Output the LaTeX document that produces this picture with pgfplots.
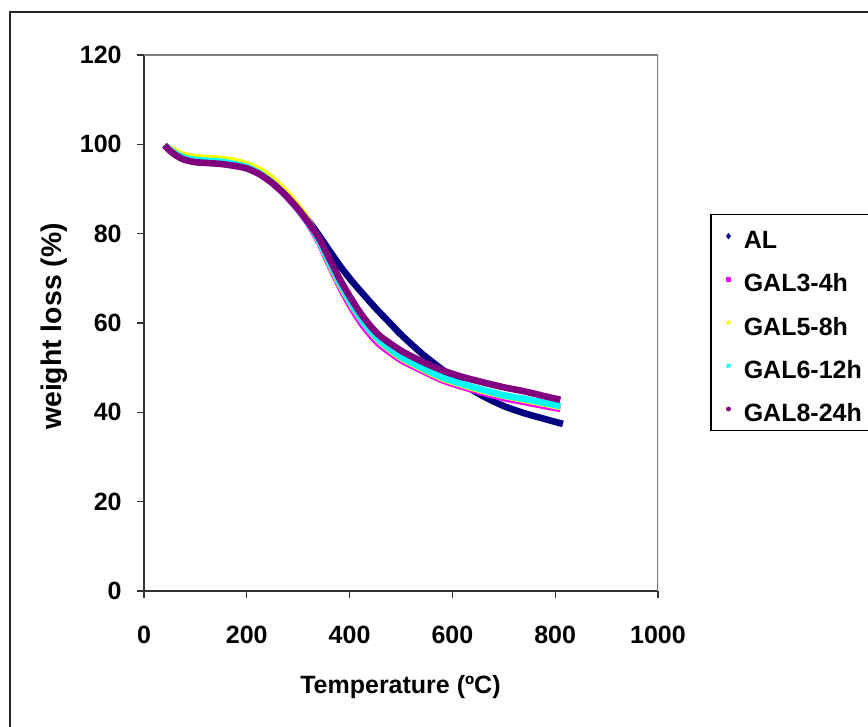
\documentclass[border=0pt]{standalone}
\usepackage{pgfplots}
\pgfplotsset{compat=1.18}
\usepackage{fontspec}
\setmainfont{Liberation Sans}

\definecolor{alblue}{RGB}{0,0,128}
\definecolor{galmag}{RGB}{255,0,255}
\definecolor{galyel}{RGB}{255,255,0}
\definecolor{galcya}{RGB}{0,255,255}
\definecolor{galpur}{RGB}{128,0,128}

\newcommand{\chartfont}{\fontsize{12.5}{15}\selectfont\bfseries}
\newcommand{\ylabfont}{\fontsize{14.2}{17}\selectfont\bfseries}
\newcommand{\legstrut}{\rule{0pt}{14pt}}
% legend marker, shifted down a little so that it sits at the middle of the capitals
\newcommand{\legmark}[4]{\draw[#1, line width=#3, mark=#2, mark size=#4, only marks] plot coordinates {(0pt,0pt)}; \path (-1.6pt,-1.6pt) (5pt,6.6pt);}

\begin{document}
\begin{tikzpicture}
\useasboundingbox (-72pt,-68pt) rectangle (362pt,295.5pt);
% outer chart area frame (right and bottom edges fall outside the page)
\draw[line width=0.75pt, black!85] (-67pt,-90pt) -- (-67pt,289.5pt) -- (390pt,289.5pt);
\begin{axis}[
    scale only axis,
    width=257pt, height=268pt,
    xmin=0, xmax=1000, ymin=0, ymax=120,
    xtick={0,200,...,1000},
    ytick={0,20,...,120},
    axis x line*=bottom, axis y line*=left,
    axis line style={line width=0.75pt, black!80},
    tick align=outside,
    major tick length=3.5pt,
    tick style={line width=0.6pt, black!80},
    ticklabel style={font=\chartfont},
    /pgf/number format/assume math mode=true,
    /pgf/number format/1000 sep={},
    xticklabel style={anchor=north, inner sep=0pt, yshift=-14pt},
    yticklabel style={anchor=east, inner sep=0pt, xshift=-7.5pt},
    xlabel={Temperature (ºC)},
    ylabel={weight loss (\%)},
    xlabel style={font=\chartfont, at={(axis description cs:0.499,-0.180)}, anchor=center},
    ylabel style={font=\ylabfont, at={(axis description cs:-0.175,0.4935)}, anchor=center},
    legend style={
        at={(axis description cs:1.1012,0.7034)}, anchor=north west,
        draw=black, line width=0.75pt,
        font=\chartfont,
        inner xsep=5.6pt, inner ysep=2pt,
        row sep=4.1pt,
        nodes={inner sep=1pt},
    },
    legend cell align=left,
    every axis plot/.append style={line width=3.3pt, smooth, tension=0.4},
]
% AL
\addplot[color=alblue, legend image code/.code={\legmark{alblue}{diamond*}{0.4pt}{1.3pt}}]
coordinates {
(40,99.8) (50,98.8) (60,98.0) (70,97.3) (80,96.8) (100,96.2) (125,96.0)
(150,95.8) (175,95.4) (200,94.8) (225,93.5) (250,91.5) (275,88.9)
(300,85.7) (320,82.9) (340,79.7) (360,76.3) (380,73.0) (400,70.0)
(420,67.3) (450,63.4) (480,59.8) (500,57.4) (540,53.2) (580,49.6)
(620,46.3) (660,43.6) (700,41.4) (740,39.8) (780,38.5) (815,37.4)
};
\addlegendentry{\legstrut AL}
% GAL3-4h
\addplot[color=galmag, legend image code/.code={\legmark{galmag}{square*}{0.4pt}{0.8pt}}]
coordinates {
(40,99.8) (50,98.8) (60,98.0) (70,97.3) (80,96.8) (100,96.3) (125,96.1)
(150,95.9) (175,95.5) (200,94.8) (225,93.4) (250,91.3) (275,88.6)
(300,85.3) (320,82.2) (340,78.2) (360,73.2) (380,68.4) (400,64.1)
(420,60.4) (440,57.4) (460,55.0) (500,51.7) (540,49.4) (580,47.2)
(620,45.7) (660,44.4) (700,43.2) (740,42.3) (780,41.4) (810,40.8)
};
\addlegendentry{\legstrut GAL3-4h}
% GAL5-8h
\addplot[color=galyel, legend image code/.code={\legmark{galyel}{triangle*}{0.4pt}{1.2pt}}]
coordinates {
(40,99.8) (50,99.0) (60,98.5) (70,97.9) (80,97.5) (100,97.1) (125,96.9)
(150,96.7) (175,96.3) (200,95.5) (225,94.3) (250,92.3) (275,89.5)
(300,86.1) (320,82.8) (340,78.5) (360,73.6) (380,68.9) (400,64.8)
(420,61.2) (440,58.2) (460,55.7) (500,52.2) (540,49.8) (580,47.6)
(620,46.1) (660,44.8) (700,43.7) (740,42.8) (780,41.9) (810,41.2)
};
\addlegendentry{\legstrut GAL5-8h}
% GAL6-12h
\addplot[color=galcya, legend image code/.code={\legmark{galcya}{x}{0.8pt}{1.2pt}}]
coordinates {
(40,99.8) (50,98.8) (60,98.0) (70,97.4) (80,96.9) (100,96.5) (125,96.3)
(150,96.1) (175,95.6) (200,94.9) (225,93.5) (250,91.4) (275,88.7)
(300,85.4) (320,82.4) (340,78.6) (360,73.8) (380,69.2) (400,65.0)
(420,61.3) (440,58.3) (460,55.9) (500,52.4) (540,50.0) (580,47.8)
(620,46.3) (660,45.0) (700,43.8) (740,43.0) (780,42.1) (810,41.4)
};
\addlegendentry{\legstrut GAL6-12h}
% GAL8-24h
\addplot[color=galpur, legend image code/.code={\legmark{galpur}{asterisk}{0.8pt}{1.2pt}}]
coordinates {
(40,99.8) (50,98.6) (60,97.7) (70,97.0) (80,96.5) (100,96.0) (125,95.8)
(150,95.6) (175,95.2) (200,94.6) (225,93.3) (250,91.3) (275,88.7)
(300,85.5) (320,82.5) (340,79.1) (360,74.6) (380,70.0) (400,66.0)
(420,62.4) (440,59.4) (460,57.0) (500,53.8) (540,51.4) (580,49.4)
(620,47.9) (660,46.7) (700,45.6) (740,44.7) (780,43.6) (810,42.8)
};
\addlegendentry{\legstrut GAL8-24h}
% plot area border (top and right, grey)
\draw[line width=0.75pt, gray] (rel axis cs:0,1) -- (rel axis cs:1,1) -- (rel axis cs:1,0);
\end{axis}
\end{tikzpicture}
\end{document}
